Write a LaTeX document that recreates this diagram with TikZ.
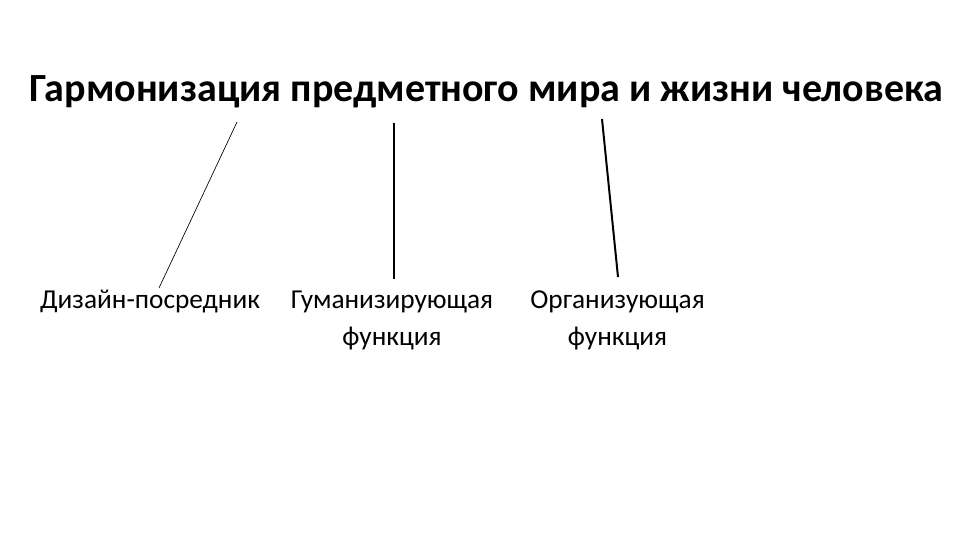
\documentclass[tikz,border=0pt]{standalone}
\usepackage{fontspec}
\setmainfont{Carlito}
\usetikzlibrary{positioning,calc}
\definecolor{LineBlack}{RGB}{0,0,0}

\begin{document}
\begin{tikzpicture}[x=0.75pt,y=-0.75pt,
    titlebox/.style={font={\fontsize{30}{36}\selectfont\bfseries},inner sep=0pt,anchor=base},
    leafbox/.style={font={\fontsize{20.5}{27.75}\selectfont},align=center,inner sep=0pt,anchor=base}]
  \useasboundingbox (0,0) rectangle (960,540);
  \node[titlebox] (goal) at (486.5,101.7) {Гармонизация предметного мира и жизни человека};
  % base of a two-line node is its last line
  \node[leafbox] (mediator) at (150,308.5) {Дизайн-посредник};
  \node[leafbox] (human) at (392,345.5) {Гуманизирующая\\функция};
  \node[leafbox] (organise) at (617.5,345.5) {Организующая\\функция};
  % free ends of the links
  \coordinate (m-top) at (237,122);
  \coordinate (m-bot) at (159,288);
  \coordinate (h-top) at (394,123);
  \coordinate (h-bot) at (394,279);
  \coordinate (o-top) at (602,119);
  \coordinate (o-bot) at (618,277);
  \draw[LineBlack,line width=0.5pt] (m-top)--(m-bot);
  \draw[LineBlack,line width=1pt] (h-top)--(h-bot);
  \draw[LineBlack,line width=1.5pt] (o-top)--(o-bot);
\end{tikzpicture}
\end{document}
